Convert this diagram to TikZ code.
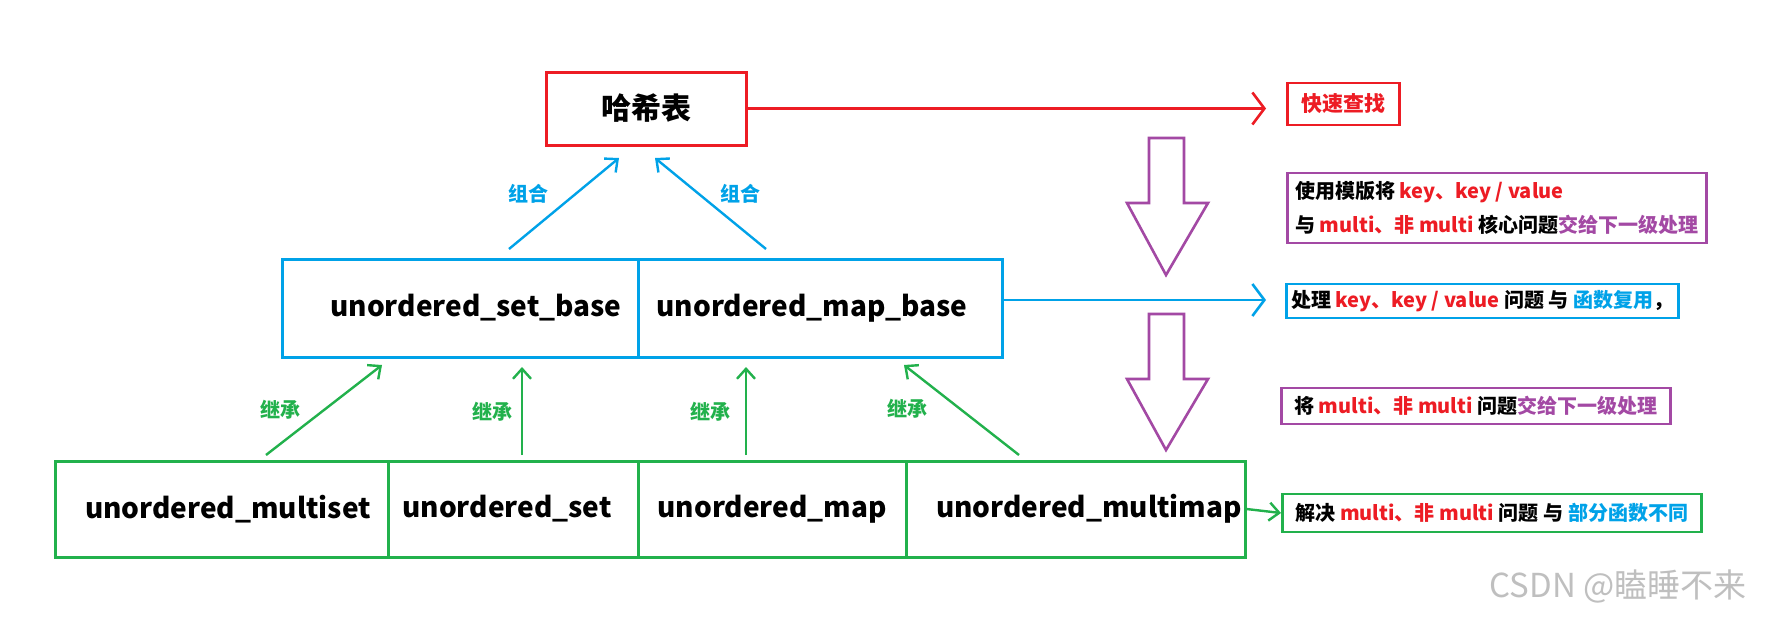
\documentclass[tikz,border=0pt]{standalone}
\usepackage{fontspec}
\setmainfont{Noto Sans CJK SC}
\usetikzlibrary{arrows.meta}
\definecolor{pred}{RGB}{237,28,36}
\definecolor{pblue}{RGB}{0,162,232}
\definecolor{pgreen}{RGB}{34,177,76}
\definecolor{ppurple}{RGB}{163,73,164}
\newcommand{\rd}[1]{\textcolor{pred}{#1}}
\newcommand{\bl}[1]{\textcolor{pblue}{#1}}
\newcommand{\pp}[1]{\textcolor{ppurple}{#1}}
\newcommand{\shifted}[2]{\makebox[0pt]{\hspace*{#1}#2}}
\tikzset{
  box/.style={draw, line width=1.5pt, inner sep=0pt, font=\fontsize{14}{17}\selectfont\bfseries},
  note/.style={draw, line width=1.3pt, inner xsep=2pt, inner ysep=1pt, font=\fontsize{10}{17}\selectfont\bfseries, align=left, anchor=west},
  link/.style={line width=1.2pt, -{Straight Barb[length=5pt,width=9pt,line width=1.2pt]}},
  biglink/.style={line width=1.3pt, -{Straight Barb[length=6pt,width=16pt,line width=1.3pt]}},
  lbl/.style={font=\fontsize{10}{12}\selectfont\bfseries},
  hollow/.style={draw=ppurple, line width=1.3pt, fill=white}
}
\begin{document}
\begin{tikzpicture}[x=0.5pt,y=-0.5pt]
\useasboundingbox[fill=white] (0,0) rectangle (1772,616);
% main boxes
\node[box, draw=pred, minimum width=100pt, minimum height=36.5pt, font=\fontsize{15}{18}\selectfont\bfseries] (hash) at (646,108.5) {哈希表};
\node[box, draw=pblue, minimum width=178pt, minimum height=49pt] (setbase) at (460,308) {\shifted{16pt}{unordered\_set\_base}};
\node[box, draw=pblue, minimum width=182pt, minimum height=49pt] (mapbase) at (820,308) {\shifted{-8pt}{unordered\_map\_base}};
\node[box, draw=pgreen, minimum width=166.5pt, minimum height=48pt] (mset) at (221.5,509) {\shifted{6.5pt}{unordered\_multiset}};
\node[box, draw=pgreen, minimum width=125pt, minimum height=48pt] (uset) at (513,509) {\shifted{-6pt}{unordered\_set}};
\node[box, draw=pgreen, minimum width=134pt, minimum height=48pt] (umap) at (772,509) {\shifted{0pt}{unordered\_map}};
\node[box, draw=pgreen, minimum width=169.5pt, minimum height=48pt] (mmap) at (1075.5,509) {\shifted{13.5pt}{unordered\_multimap}};
% notes
\node[note, draw=pred, text=pred, minimum width=56pt, minimum height=21pt, font=\fontsize{10.5}{12}\selectfont\bfseries] (fast) at (1286,104) {快速查找};
\node[note, draw=ppurple, minimum width=209.5pt, minimum height=35pt] (tmpl) at (1286,208) {使用模版将 \rd{key、key / value}\\与 \rd{multi、非 multi} 核心问题\pp{交给下一级处理}};
\node[note, draw=pblue, minimum width=196pt, minimum height=17pt] (kv) at (1285,301) {处理 \rd{key、key / value} 问题 与 \bl{函数复用}，};
\node[note, draw=ppurple, minimum width=194.5pt, minimum height=18pt] (mul) at (1280,406) {将 \rd{multi、非 multi} 问题\pp{交给下一级处理}};
\node[note, draw=pgreen, minimum width=209.5pt, minimum height=19pt] (diff) at (1281,513) {解决 \rd{multi、非 multi} 问题 与 \bl{部分函数不同}};
% connector coordinates
\coordinate (c1s) at (509,249); \coordinate (c1e) at (619,158);
\coordinate (c2s) at (766,249); \coordinate (c2e) at (655,158);
\coordinate (i1s) at (266,455); \coordinate (i1e) at (382,365);
\coordinate (i2s) at (522,455); \coordinate (i2e) at (522,367);
\coordinate (i3s) at (746,455); \coordinate (i3e) at (746,367);
\coordinate (i4s) at (1019,455); \coordinate (i4e) at (904,365);
\coordinate (redend) at (1266,108.5);
\coordinate (blueend) at (1266,300);
% composition arrows
\draw[link, pblue] (c1s) -- (c1e);
\draw[link, pblue] (c2s) -- (c2e);
\node[lbl, text=pblue] (l1) at (528,194) {组合};
\node[lbl, text=pblue] (l2) at (740,194) {组合};
% inheritance arrows
\draw[link, pgreen] (i1s) -- (i1e);
\draw[link, pgreen] (i2s) -- (i2e);
\draw[link, pgreen] (i3s) -- (i3e);
\draw[link, pgreen] (i4s) -- (i4e);
\node[lbl, text=pgreen] (l3) at (280,410) {继承};
\node[lbl, text=pgreen] (l4) at (492,412) {继承};
\node[lbl, text=pgreen] (l5) at (710,412) {继承};
\node[lbl, text=pgreen] (l6) at (907,409) {继承};
% long arrows
\draw[biglink, pred] (hash.east) -- (redend);
\draw[biglink, pblue] (mapbase.east |- blueend) -- (blueend);
\draw[link, pgreen] (mmap.east) -- (diff.west);
% hollow arrows
\draw[hollow] (1149,138) -- (1184,138) -- (1184,203) -- (1208,203) -- (1166,275) -- (1127,203) -- (1149,203) -- cycle;
\draw[hollow] (1149,314) -- (1184,314) -- (1184,379) -- (1208,379) -- (1166,450) -- (1127,379) -- (1149,379) -- cycle;
% watermark
\node[text=black!25, font=\fontsize{16.5}{19}\selectfont] (wm) at (1618,586) {CSDN @瞌睡不来};
\end{tikzpicture}
\end{document}
